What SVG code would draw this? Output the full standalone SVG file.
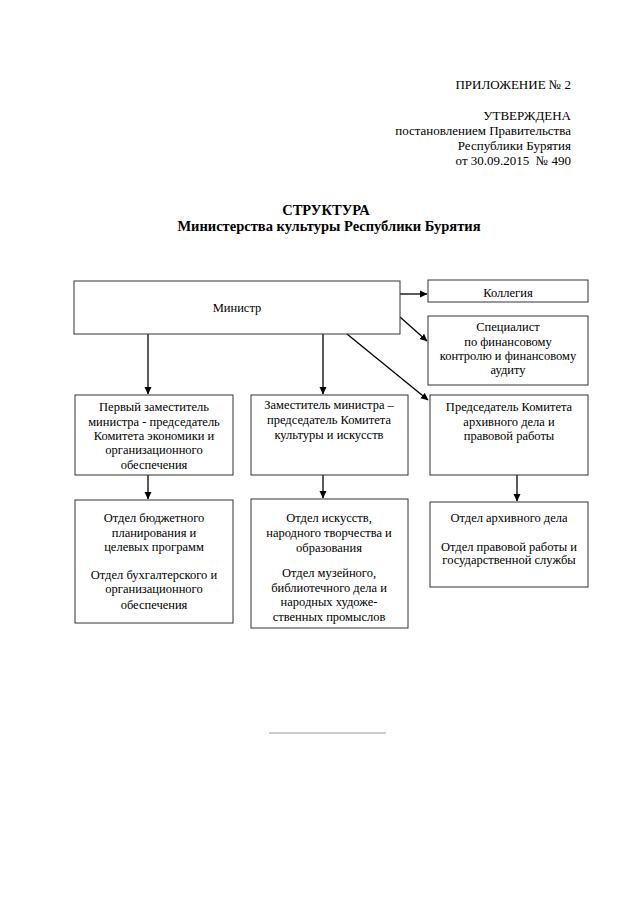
<svg xmlns="http://www.w3.org/2000/svg" width="640" height="905" viewBox="0 0 640 905">
<style>
text{font-family:"Liberation Serif","Times New Roman",serif;fill:#000}
.hd{font-size:13px;text-anchor:end}
.tt{font-size:14.5px;font-weight:bold;text-anchor:middle}
.bx{fill:#fff;stroke:#333;stroke-width:1}
.t{font-size:12.5px;text-anchor:middle}
.c{stroke:#000;stroke-width:1.3;fill:none}
</style>
<defs>
<marker id="ah" markerWidth="8" markerHeight="8" refX="7" refY="4" orient="auto" markerUnits="userSpaceOnUse">
<path d="M0,0.5 L7.5,4 L0,7.5 Z" fill="#000"/>
</marker>
</defs>
<rect width="640" height="905" fill="#fff"/>
<g id="header">
<text class="hd" x="571" y="89">ПРИЛОЖЕНИЕ № 2</text>
<text class="hd" x="571" y="120">УТВЕРЖДЕНА</text>
<text class="hd" x="571" y="135">постановлением Правительства</text>
<text class="hd" x="571" y="150">Республики Бурятия</text>
<text class="hd" x="571" y="165" xml:space="preserve">от 30.09.2015  № 490</text>
</g>
<g id="title">
<text class="tt" x="326" y="215">СТРУКТУРА</text>
<text class="tt" x="329" y="231">Министерства культуры Республики Бурятия</text>
</g>
<g id="connectors">
<line class="c" x1="400" y1="294" x2="427" y2="294" marker-end="url(#ah)"/>
<line class="c" x1="400" y1="317" x2="427" y2="341" marker-end="url(#ah)"/>
<line class="c" x1="347" y1="334" x2="428" y2="400" marker-end="url(#ah)"/>
<line class="c" x1="148" y1="334" x2="148" y2="394" marker-end="url(#ah)"/>
<line class="c" x1="323" y1="334" x2="323" y2="394" marker-end="url(#ah)"/>
<line class="c" x1="148" y1="475" x2="148" y2="499" marker-end="url(#ah)"/>
<line class="c" x1="323" y1="475" x2="323" y2="498" marker-end="url(#ah)"/>
<line class="c" x1="517" y1="475" x2="517" y2="501" marker-end="url(#ah)"/>
</g>
<g id="minister">
<rect class="bx" x="74" y="281" width="326" height="53"/>
<text class="t" x="237" y="312">Министр</text>
</g>
<g id="kollegiya">
<rect class="bx" x="428" y="280" width="160" height="22"/>
<text class="t" x="508" y="297">Коллегия</text>
</g>
<g id="specialist">
<rect class="bx" x="428" y="316" width="160" height="69"/>
<text class="t" x="508" y="331">Специалист</text>
<text class="t" x="508" y="346">по финансовому</text>
<text class="t" x="508" y="360">контролю и финансовому</text>
<text class="t" x="508" y="374">аудиту</text>
</g>
<g id="deputy1">
<rect class="bx" x="75" y="395" width="158" height="80"/>
<text class="t" x="154" y="411">Первый заместитель</text>
<text class="t" x="154" y="426">министра - председатель</text>
<text class="t" x="154" y="440">Комитета экономики и</text>
<text class="t" x="154" y="454">организационного</text>
<text class="t" x="154" y="469">обеспечения</text>
</g>
<g id="deputy2">
<rect class="bx" x="251" y="395" width="157" height="80"/>
<text class="t" x="329" y="409">Заместитель министра –</text>
<text class="t" x="329" y="424">председатель Комитета</text>
<text class="t" x="329" y="439">культуры и искусств</text>
</g>
<g id="chairman">
<rect class="bx" x="430" y="395" width="158" height="80"/>
<text class="t" x="509" y="411">Председатель Комитета</text>
<text class="t" x="509" y="426">архивного дела и</text>
<text class="t" x="509" y="440">правовой работы</text>
</g>
<g id="dept1">
<rect class="bx" x="75" y="500" width="158" height="123"/>
<text class="t" x="154" y="522">Отдел бюджетного</text>
<text class="t" x="154" y="537">планирования и</text>
<text class="t" x="154" y="551">целевых программ</text>
<text class="t" x="154" y="579">Отдел бухгалтерского и</text>
<text class="t" x="154" y="593">организационного</text>
<text class="t" x="154" y="609">обеспечения</text>
</g>
<g id="dept2">
<rect class="bx" x="251" y="499" width="157" height="129"/>
<text class="t" x="329" y="522">Отдел искусств,</text>
<text class="t" x="329" y="537">народного творчества и</text>
<text class="t" x="329" y="552">образования</text>
<text class="t" x="329" y="577">Отдел музейного,</text>
<text class="t" x="329" y="592">библиотечного дела и</text>
<text class="t" x="329" y="606">народных художе-</text>
<text class="t" x="329" y="621">ственных промыслов</text>
</g>
<g id="dept3">
<rect class="bx" x="430" y="502" width="158" height="85"/>
<text class="t" x="509" y="522">Отдел архивного дела</text>
<text class="t" x="509" y="551">Отдел правовой работы и</text>
<text class="t" x="509" y="564">государственной службы</text>
</g>
<line x1="269" y1="733" x2="386" y2="733" stroke="#999" stroke-width="1"/>
</svg>
